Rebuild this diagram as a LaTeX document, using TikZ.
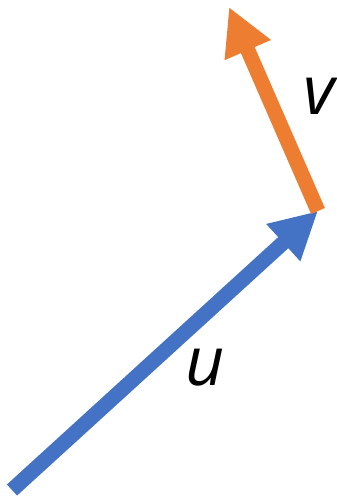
\documentclass[tikz,border=0pt]{standalone}
\usepackage{fontspec}
\setmainfont{Open Sans}
\usetikzlibrary{arrows.meta}
\definecolor{vblue}{HTML}{4472C4}
\definecolor{vorange}{HTML}{ED7D31}
\begin{document}
\begin{tikzpicture}[x=1pt,y=-1pt,
  vec/.style={line width=15pt,-{Triangle[length=47pt,width=47pt]}},
  lbl/.style={font=\fontsize{68}{74}\selectfont\itshape,inner sep=0pt}]
\useasboundingbox (0,0) rectangle (337,498);
\coordinate (o) at (12,490);
\coordinate (a) at (318,211);
\coordinate (b) at (229,7);
\draw[vec,vblue] (o) -- (a);
\draw[vec,vorange] (a) -- (b);
\node[lbl] (u) at (205,368) {u};
\node[lbl] (v) at (319,96) {v};
\end{tikzpicture}
\end{document}
